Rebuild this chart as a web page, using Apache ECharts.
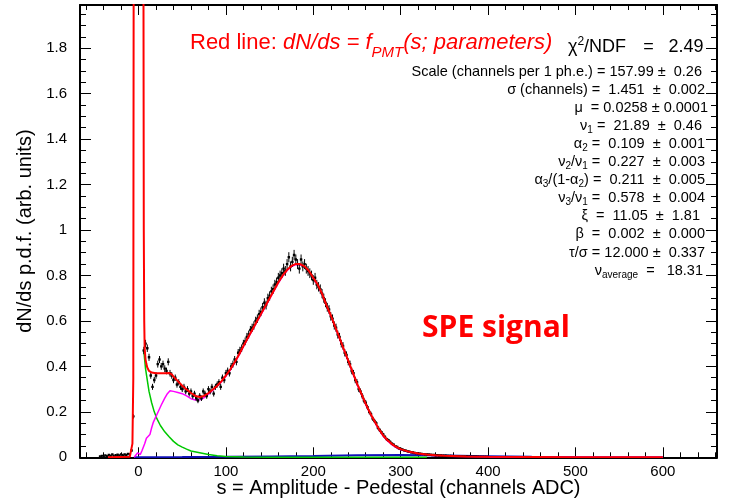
<!DOCTYPE html>
<html>
<head>
<meta charset="utf-8">
<script src="https://cdn.jsdelivr.net/npm/echarts@6/dist/echarts.min.js"></script>
<style>
html,body{margin:0;padding:0;background:#fff;}
#chart{width:732px;height:504px;}
</style>
</head>
<body>
<div id="chart"></div>
<script>
// ---------- data ----------
const X_MIN = -67, X_MAX = 662, Y_MIN = 0, Y_MAX = 1.99;
const xTickLabels = [0, 100, 200, 300, 400, 500, 600];
const yTickLabels = [0, 0.2, 0.4, 0.6, 0.8, 1, 1.2, 1.4, 1.6, 1.8];

// histogram points left of the pedestal (bin centres -44 .. -6, step 2)
const sideStart = -44, binStep = 2;
const sideValues = [0.004,0.006,0.003,0.008,0.005,0.010,0.007,0.012,0.006,0.009,
                    0.011,0.008,0.013,0.009,0.012,0.010,0.015,0.012,0.030,0.18];
// histogram points of the signal (bin centres 6 .. 400, step 2)
const signalStart = 6;
const signalValues = [
0.47,0.50,0.48,0.44,0.36,0.31,0.34,0.36,0.41,0.43,
0.40,0.41,0.39,0.38,0.42,0.37,0.36,0.34,0.35,0.32,
0.33,0.31,0.30,0.31,0.29,0.30,0.28,0.29,0.27,0.28,
0.26,0.25,0.27,0.26,0.29,0.28,0.27,0.30,0.29,0.31,
0.28,0.31,0.32,0.33,0.31,0.35,0.34,0.37,0.38,0.37,
0.40,0.41,0.43,0.42,0.46,0.47,0.48,0.50,0.51,0.53,
0.54,0.56,0.57,0.58,0.60,0.61,0.63,0.64,0.66,0.68,
0.67,0.70,0.71,0.73,0.74,0.76,0.77,0.79,0.80,0.81,
0.83,0.82,0.85,0.88,0.84,0.86,0.89,0.87,0.85,0.83,
0.87,0.84,0.85,0.83,0.82,0.81,0.80,0.78,0.79,0.76,
0.75,0.74,0.72,0.70,0.68,0.66,0.65,0.62,0.61,0.58,
0.57,0.54,0.53,0.50,0.49,0.46,0.45,0.42,0.41,0.38,
0.37,0.34,0.33,0.30,0.29,0.27,0.25,0.24,0.22,0.20,
0.19,0.17,0.16,0.15,0.13,0.12,0.11,0.10,0.09,0.08,
0.075,0.068,0.060,0.055,0.049,0.045,0.040,0.037,0.034,0.031,
0.029,0.026,0.025,0.022,0.021,0.019,0.018,0.017,0.016,0.015,
0.014,0.013,0.012,0.012,0.011,0.010,0.010,0.009,0.009,0.008,
0.008,0.007,0.007,0.007,0.006,0.006,0.006,0.005,0.005,0.005,
0.005,0.004,0.004,0.004,0.004,0.004,0.003,0.003,0.003,0.003,
0.003,0.003,0.002,0.002,0.002,0.002,0.002,0.002];
// effective counts per unit of p.d.f. (sets the Poisson error bars)
const countsPerUnit = 1750;

// red: total fit f_PMT
const redS = [-35,-10,-8,-7,-6,-5.5,-5,5,5.5,6,6.5,7,8,9,10,12,15,20,25,30,35,38,40,
45,50,55,60,65,70,75,80,85,90,95,100,105,110,115,120,125,130,135,140,145,150,155,160,
165,170,175,180,185,190,195,200,205,210,215,220,225,230,235,240,245,250,255,260,265,
270,275,280,285,290,295,300,310,320,330,340,350,375,400,450,500,600];
const redV = [0,0.002,0.01,0.06,0.35,2.5,5,5,2.5,1.0,0.6,0.48,0.43,0.41,0.395,0.38,0.373,
0.37,0.37,0.37,0.371,0.365,0.355,
0.335,0.315,0.298,0.283,0.27,0.265,0.27,0.283,0.298,0.315,0.335,0.36,0.387,0.418,0.452,
0.49,0.525,0.56,0.595,0.63,0.665,0.70,0.735,0.77,0.80,0.825,0.842,0.851,0.85,0.84,0.82,
0.79,0.76,0.72,0.67,0.625,0.575,0.525,0.475,0.425,0.375,0.325,0.28,0.235,0.195,0.16,
0.125,0.096,0.075,0.058,0.046,0.036,0.024,0.017,0.012,0.009,0.007,0.004,0.002,0.001,0.0003,0];

// green: background (exponential-like) component
const greenS = [6,7,8,10,12,15,18,21,25,30,35,40,45,50,55,60,70,80,90,100,120,150,200,330];
const greenV = [0.47,0.43,0.39,0.34,0.29,0.24,0.2,0.17,0.14,0.112,0.09,0.07,0.055,0.045,
0.036,0.028,0.02,0.012,0.007,0.004,0.0015,0.0005,0.0002,0];

// magenta: photo-electron component
const magS = [-5,-3,-1,0,1,2,3,4,5,7,9,11,13,15,17,20,23,26,30,33,36,40,45,50,55,60,65,70,
75,80,85,90,95,100,105,110,115,120,125,130,135,140,145,150,155,160,165,170,175,180,185,
190,195,200,205,210,215,220,225,230,235,240,245,250,255,260,265,270,275,280,285,290,295,
300,310,320,330,340,350,375,400,450,500,600];
const magV = [0,0.005,0.02,0.025,0.02,0.012,0.015,0.03,0.04,0.06,0.084,0.092,0.1,0.13,0.155,
0.18,0.205,0.23,0.26,0.28,0.293,0.29,0.285,0.28,0.27,0.258,0.252,0.253,0.262,0.278,0.295,
0.313,0.333,0.357,0.384,0.415,0.449,0.487,0.522,0.557,0.592,0.627,0.662,0.697,0.732,0.767,
0.797,0.822,0.839,0.848,0.847,0.837,0.817,0.787,0.757,0.717,0.667,0.622,0.572,0.522,0.472,
0.422,0.372,0.322,0.277,0.232,0.192,0.157,0.122,0.093,0.072,0.055,0.043,0.033,0.022,0.015,
0.010,0.007,0.005,0.003,0.0015,0.0007,0.0002,0];

// blue: small multi-p.e. component
const blueS = [-5,0,50,100,150,200,250,300,350,400,450,500,600];
const blueV = [0,0.0005,0.001,0.002,0.004,0.006,0.009,0.01,0.008,0.005,0.002,0.001,0];

// fit-result text
const chiText = 'χ{sup|2}/NDF';
const chiValue = '2.49';
const paramLines = [
  'Scale (channels per 1 ph.e.) = 157.99 ±  0.26',
  'σ (channels) =  1.451  ±  0.002',
  'μ  = 0.0258 ± 0.0001',
  'ν{s|1} =  21.89  ±  0.46',
  'α{s|2} =  0.109  ±  0.001',
  'ν{s|2}/ν{s|1} =  0.227  ±  0.003',
  'α{s|3}/(1-α{s|2}) =  0.211  ±  0.005',
  'ν{s|3}/ν{s|1} =  0.578  ±  0.004',
  'ξ  =  11.05  ±  1.81',
  'β  =  0.002  ±  0.000',
  'τ/σ = 12.000 ±  0.337',
  'ν{s|average}  =   18.31'
];

// ---------- build ----------
const FONT = '"Liberation Sans", Arial, Helvetica, sans-serif';
function pairs(xs, ys){ return xs.map((x,i)=>[x, ys[i]]); }
function histPoints(start, vals){
  return vals.map((v,i)=>[start + i*binStep, v, Math.sqrt(v/countsPerUnit)]);
}
const points = histPoints(sideStart, sideValues).concat(histPoints(signalStart, signalValues));

const xMinor = []; for (let v = -60; v <= 660; v += 20) xMinor.push(v);
const yMinor = []; for (let i = 0; i <= 39; i++) yMinor.push(+(i*0.05).toFixed(2));

function xAx(pos, major, extra){
  return Object.assign({
    type:'value', min:X_MIN, max:X_MAX, position:pos,
    axisLine:{show:major, onZero:false, lineStyle:{color:'#000', width:2}},
    axisTick:{show:true, inside:true, length: major?10:5, customValues: major? xTickLabels : xMinor,
              lineStyle:{color:'#000', width:1}},
    axisLabel:{show:false}, splitLine:{show:false}
  }, extra||{});
}
function yAx(pos, major, extra){
  return Object.assign({
    type:'value', min:Y_MIN, max:Y_MAX, position:pos,
    axisLine:{show:major, onZero:false, lineStyle:{color:'#000', width:2}},
    axisTick:{show:true, inside:true, length: major?11:6, customValues: major? yTickLabels : yMinor,
              lineStyle:{color:'#000', width:1}},
    axisLabel:{show:false}, splitLine:{show:false}
  }, extra||{});
}

const xAxes = [
  xAx('bottom', true, {
    axisLabel:{show:true, customValues:xTickLabels, margin:7, fontSize:15, color:'#000', fontFamily:FONT},
    name:'s = Amplitude - Pedestal (channels ADC)', nameLocation:'middle', nameGap:21,
    nameMoveOverlap:false,
    nameTextStyle:{fontSize:20, color:'#000', fontFamily:FONT}
  }),
  xAx('bottom', false),
  xAx('top', true),
  xAx('top', false)
];
const yAxes = [
  yAx('left', true, {
    axisLabel:{show:true, customValues:yTickLabels, margin:13, fontSize:15, color:'#000', fontFamily:FONT,
               formatter:function(v){return String(Math.round(v*10)/10);}},
    name:'dN/ds p.d.f. (arb. units)', nameLocation:'middle', nameGap:39,
    nameTextStyle:{fontSize:20, color:'#000', fontFamily:FONT}
  }),
  yAx('left', false),
  yAx('right', true),
  yAx('right', false)
];

function lineSeries(data, color, width, z){
  return {type:'line', data:data, xAxisIndex:0, yAxisIndex:0, symbol:'none', clip:true,
          lineStyle:{color:color, width:width}, z:z, silent:true};
}

const series = [
  lineSeries(pairs(blueS, blueV), '#1010b8', 2, 2),
  lineSeries(pairs(greenS, greenV), '#00c800', 1.5, 3),
  lineSeries(pairs(magS, magV), '#ff00ff', 1.5, 4),
  {
    type:'custom', xAxisIndex:0, yAxisIndex:0, clip:true, z:5, silent:true,
    data: points, encode:{x:0, y:1},
    renderItem:function(params, api){
      const s = api.value(0), v = api.value(1), e = api.value(2);
      const p = api.coord([s, v]);
      const hi = api.coord([s, v+e]);
      const lo = api.coord([s, v-e]);
      return {type:'group', children:[
        {type:'line', shape:{x1:p[0], y1:hi[1], x2:p[0], y2:lo[1]}, style:{stroke:'#000', lineWidth:1}},
        {type:'line', shape:{x1:p[0]-1.2, y1:p[1], x2:p[0]+1.2, y2:p[1]}, style:{stroke:'#888', lineWidth:1}},
        {type:'rect', shape:{x:p[0]-1.2, y:p[1]-1.2, width:2.4, height:2.4}, style:{fill:'#000'}}
      ]};
    }
  },
  lineSeries(pairs(redS, redV), '#ff0000', 2, 6)
];

// texts
const graphics = [];
graphics.push({
  type:'text', x:190, y:43, z:10,
  style:{
    text:'Red line: {i|dN/ds = f}{s|PMT}{i|(s; parameters)}',
    fill:'#ff0000', fontSize:22, fontFamily:FONT, lineHeight:35, verticalAlign:'middle',
    rich:{
      i:{fontStyle:'italic', fontSize:22, fontFamily:FONT, fill:'#ff0000', lineHeight:35},
      s:{fontStyle:'italic', fontSize:15, fontFamily:FONT, fill:'#ff0000', lineHeight:15, verticalAlign:'bottom'}
    }
  }
});
graphics.push({
  type:'text', x:568, y:47, z:10,
  style:{text:chiText, fill:'#000', fontSize:18, fontFamily:FONT, lineHeight:22, verticalAlign:'middle',
    rich:{sup:{fontSize:12, fontFamily:FONT, fill:'#000', lineHeight:12, verticalAlign:'top'}}}
});
graphics.push({type:'text', x:648.5, y:47, z:10,
  style:{text:'=', fill:'#000', fontSize:18, fontFamily:FONT, align:'center', verticalAlign:'middle'}});
graphics.push({type:'text', x:703.5, y:47, z:10,
  style:{text:chiValue, fill:'#000', fontSize:18, fontFamily:FONT, align:'right', verticalAlign:'middle'}});

const lineRight = [702,705,708,702,705,705,705,705,700,705,705,703];
paramLines.forEach(function(t, i){
  graphics.push({
    type:'text', x:lineRight[i], y:71.5 + i*18.1, z:10,
    style:{text:t, fill:'#000', fontSize:14.5, fontFamily:FONT, lineHeight:19,
      align:'right', verticalAlign:'middle',
      rich:{s:{fontSize:10, fontFamily:FONT, fill:'#000', lineHeight:10, verticalAlign:'bottom'}}}
  });
});
graphics.push({type:'text', x:496, y:328, z:10,
  style:{text:'SPE signal', fill:'#ff0000', fontSize:30, fontWeight:'bold', fontFamily:'"Open Sans", "Liberation Sans", sans-serif',
         align:'center', verticalAlign:'middle'}});

const chart = echarts.init(document.getElementById('chart'), null, {renderer:'canvas'});
chart.setOption({
  animation:false,
  backgroundColor:'#ffffff',
  grid:{left:80, top:5, width:637, height:452.3, containLabel:false, outerBoundsMode:'none'},
  xAxis:xAxes,
  yAxis:yAxes,
  series:series,
  graphic:graphics
});
</script>
</body>
</html>
